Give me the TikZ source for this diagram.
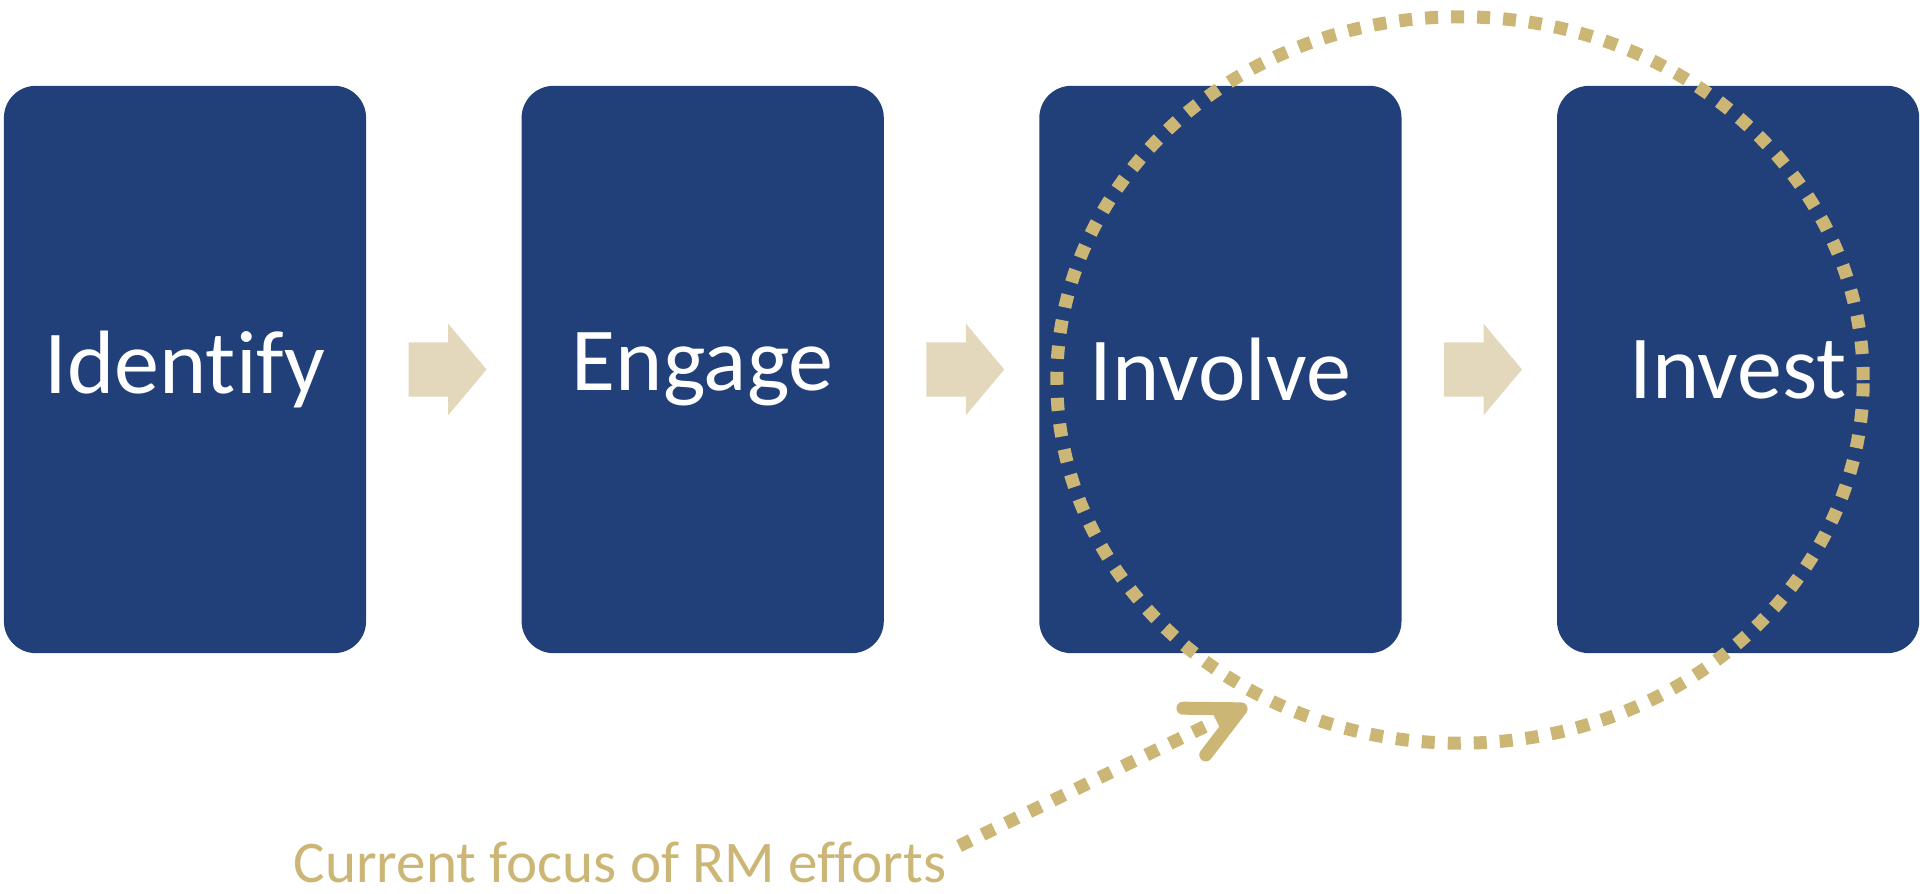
\documentclass[tikz,border=0pt]{standalone}
\usepackage{fontspec}
\setmainfont{Carlito}[Ligatures=NoCommon]
\usetikzlibrary{shapes,arrows.meta,positioning}
\definecolor{stepblue}{RGB}{33,64,122}
\definecolor{sand}{RGB}{227,215,188}
\definecolor{gold}{RGB}{204,182,118}

\begin{document}
\begin{tikzpicture}[x=0.01cm,y=-0.01cm,node distance=1.54cm]
  \tikzstyle{stage}=[rectangle,rounded corners=0.32cm,fill=stepblue,text=white,
              minimum width=3.62cm,minimum height=5.67cm,inner sep=0pt,
              font=\fontsize{25.6}{30}\selectfont]
  \tikzstyle{flow}=[single arrow,fill=sand,inner xsep=0pt,inner ysep=0.265cm,
              minimum height=0.78cm,single arrow head extend=0.185cm,
              single arrow tip angle=100]
  \tikzstyle{dots}=[draw=gold,line width=0.13cm,dash pattern=on 0.13cm off 0.13cm]
  \useasboundingbox (0,0) rectangle (1920,894);
    % the four stages
    \node [stage] (s1) at (185,369.5) {Identify};
    \node [stage] (s2) [right=of s1] {Engage};
    \node [stage] (s3) [right=of s2] {Involve};
    \node [stage] (s4) [right=of s3] {Invest};
    \node [flow] (a1) [right=0.41cm of s1] {};
    \node [flow] (a2) [right=0.41cm of s2] {};
    \node [flow] (a3) [right=0.41cm of s3] {};
    % focus ring
    \draw [dots] (1460,380) ellipse [x radius=4.03cm,y radius=3.63cm];
    \node [text=gold,font=\fontsize{16.8}{20}\selectfont,anchor=base west,
           inner sep=0pt] (lbl) at (293,882) {Current focus of RM efforts};
    \coordinate (tip) at (1247,706);
    \draw [dots,-{Straight Barb[length=0.52cm,width=0.52cm,round]}]
      ([xshift=0.12cm,yshift=0.16cm]lbl.east) -- (tip);
\end{tikzpicture}
\end{document}
